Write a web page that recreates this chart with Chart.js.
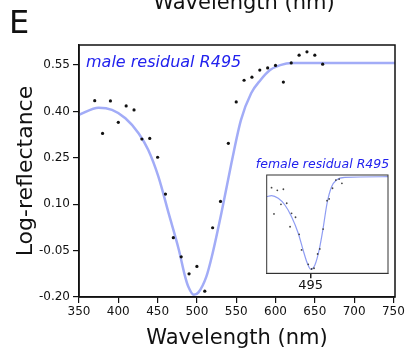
<!DOCTYPE html>
<html>
<head>
    <title>Log-reflectance residual R495</title>
    <style>
        body, html {
            margin: 0;
            background-color: #fff;
        }
        #wrap {
            position: relative;
            width: 405px;
            height: 353px;
        }
        #insetChart {
            position: absolute;
            left: 262px;
            top: 170px;
        }
    </style>
</head>
<body>
<div id="wrap">
    <canvas id="mainChart" width="405" height="353"></canvas>
    <canvas id="insetChart" width="130" height="126"></canvas>
</div>
<script src="https://cdn.jsdelivr.net/npm/chart.js"></script>
<script>
    // measured male residual, one point every 10 nm
    const wavelengths = [370, 380, 390, 400, 410, 420, 430, 440, 450, 460,
        470, 480, 490, 500, 510, 520, 530, 540, 550, 560,
        570, 580, 590, 600, 610, 620, 630, 640, 650, 660];
    const reflectance = [0.435, 0.329, 0.434, 0.365, 0.418, 0.405, 0.311, 0.313, 0.252, 0.133,
        -0.008, -0.070, -0.125, -0.101, -0.181, 0.024, 0.109, 0.297, 0.431, 0.501,
        0.511, 0.534, 0.541, 0.549, 0.495, 0.557, 0.582, 0.593, 0.582, 0.553];

    // fitted R495 template
    const fitWavelengths = [350, 375, 392, 409, 426, 438, 451, 464, 477, 485, 489, 496,
        502, 512, 519, 532, 544, 556, 569, 581, 593, 606, 621, 660, 752];
    const fitValues = [0.389, 0.412, 0.405, 0.378, 0.329, 0.276, 0.189, 0.071, -0.047, -0.134, -0.166, -0.193,
        -0.185, -0.134, -0.069, 0.082, 0.234, 0.372, 0.459, 0.502, 0.534, 0.550, 0.557, 0.557, 0.557];

    const xTicks = [350, 400, 450, 500, 550, 600, 650, 700, 750];
    const yTicks = [-0.20, -0.05, 0.10, 0.25, 0.40, 0.55];

    // female residual (inset)
    const insetWavelengths = [366, 374, 385, 397, 405, 416, 427, 432, 445, 457, 465,
        487, 498, 506, 518, 525, 536, 549, 556, 567, 578, 589, 598];
    const insetValues = [0.497, 0.283, 0.475, 0.361, 0.484, 0.370, 0.179, 0.288, 0.256, 0.117, -0.010,
        -0.127, -0.165, -0.159, -0.043, -0.002, 0.160, 0.391, 0.405, 0.492, 0.559, 0.567, 0.532];
    const insetFitWavelengths = [350, 366, 388, 410, 432, 454, 470, 484, 495, 509, 523, 536, 549, 564, 580, 608, 750];
    const insetFitValues = [0.423, 0.432, 0.410, 0.356, 0.261, 0.126, -0.010, -0.119, -0.167, -0.132, -0.010,
        0.166, 0.370, 0.505, 0.559, 0.581, 0.586];
    const insetTicks = [495];

    const FONT = '"DejaVu Sans", sans-serif';
    const INK = '#111';
    const LABEL_BLUE = '#2222ee';

    function toPoints(xs, ys) {
        return xs.map((x, i) => ({ x: x, y: ys[i] }));
    }

    const frame = {
        id: 'frame',
        afterDraw(chart, args, opts) {
            const { ctx, chartArea: a } = chart;
            ctx.save();
            ctx.strokeStyle = opts.color;
            ctx.lineWidth = opts.width;
            ctx.strokeRect(a.left, a.top, a.right - a.left, a.bottom - a.top);
            ctx.restore();
        }
    };

    const panelText = {
        id: 'panelText',
        afterDraw(chart) {
            const ctx = chart.ctx;
            ctx.save();
            ctx.textBaseline = 'alphabetic';
            ctx.fillStyle = INK;
            ctx.font = '32px ' + FONT;
            ctx.fillText('E', 9, 33);
            // bottom of the axis title from the panel above
            ctx.textAlign = 'center';
            ctx.font = '21px ' + FONT;
            ctx.fillText('Wavelength (nm)', 244, 9);

            ctx.fillStyle = LABEL_BLUE;
            ctx.textAlign = 'left';
            ctx.font = 'italic 16px ' + FONT;
            ctx.fillText('male residual R495', 86, 66.5);
            ctx.textAlign = 'center';
            ctx.font = 'italic 12.5px ' + FONT;
            ctx.fillText('female residual R495', 322.5, 168);
            ctx.restore();
        }
    };

    new Chart(document.getElementById('mainChart'), {
        type: 'scatter',
        data: {
            datasets: [{
                type: 'line',
                data: toPoints(fitWavelengths, fitValues),
                borderColor: '#a2acf7',
                borderWidth: 2.5,
                pointRadius: 0,
                cubicInterpolationMode: 'monotone',
                order: 2
            }, {
                data: toPoints(wavelengths, reflectance),
                backgroundColor: INK,
                borderWidth: 0,
                pointRadius: 1.6,
                order: 1
            }]
        },
        options: {
            responsive: false,
            animation: false,
            layout: { padding: { top: 45, right: 10, left: 0, bottom: 0 } },
            plugins: {
                legend: { display: false },
                tooltip: { enabled: false },
                frame: { color: INK, width: 1.5 }
            },
            scales: {
                x: {
                    type: 'linear',
                    min: 350,
                    max: 752,
                    afterBuildTicks: axis => { axis.ticks = xTicks.map(value => ({ value })); },
                    afterFit: axis => {
                        axis.height = 56;
                        // let the 750 label hang past the frame
                        axis.paddingRight = 0;
                        axis.paddingLeft = 0;
                    },
                    ticks: {
                        color: INK,
                        font: { family: FONT, size: 12 },
                        padding: 2,
                        callback: v => String(v)
                    },
                    grid: { drawOnChartArea: false, tickLength: 6, color: INK, lineWidth: 1.2 },
                    border: { color: INK, width: 1.5 },
                    title: {
                        display: true,
                        text: 'Wavelength (nm)',
                        color: INK,
                        font: { family: FONT, size: 21 },
                        padding: { top: 0, bottom: 2 }
                    }
                },
                y: {
                    min: -0.20,
                    max: 0.615,
                    afterBuildTicks: axis => { axis.ticks = yTicks.map(value => ({ value })); },
                    afterFit: axis => { axis.width = 79; },
                    ticks: {
                        color: INK,
                        font: { family: FONT, size: 12 },
                        padding: 3,
                        callback: v => v.toFixed(2)
                    },
                    grid: { drawOnChartArea: false, tickLength: 6, color: INK, lineWidth: 1.2 },
                    border: { color: INK, width: 1.5 },
                    title: {
                        display: true,
                        text: 'Log-reflectance',
                        color: INK,
                        font: { family: FONT, size: 22 },
                        padding: { top: 13, bottom: 0 }
                    }
                }
            }
        },
        plugins: [frame, panelText]
    });

    new Chart(document.getElementById('insetChart'), {
        type: 'scatter',
        data: {
            datasets: [{
                type: 'line',
                data: toPoints(insetFitWavelengths, insetFitValues),
                borderColor: '#8f9df3',
                borderWidth: 1.2,
                pointRadius: 0,
                cubicInterpolationMode: 'monotone',
                order: 2
            }, {
                data: toPoints(insetWavelengths, insetValues),
                backgroundColor: '#444',
                borderWidth: 0,
                pointRadius: 0.9,
                order: 1
            }]
        },
        options: {
            responsive: false,
            animation: false,
            layout: { padding: { top: 5, right: 3.7, left: 4.7, bottom: 0 } },
            plugins: {
                legend: { display: false },
                tooltip: { enabled: false },
                frame: { color: '#333', width: 1 }
            },
            scales: {
                x: {
                    type: 'linear',
                    min: 350,
                    max: 750,
                    afterBuildTicks: axis => { axis.ticks = insetTicks.map(value => ({ value })); },
                    afterFit: axis => { axis.height = 22.7; },
                    ticks: {
                        color: INK,
                        font: { family: FONT, size: 13 },
                        padding: 0,
                        callback: v => String(v)
                    },
                    grid: { drawOnChartArea: false, tickLength: 5, color: '#222', lineWidth: 1.5 },
                    border: { color: '#333', width: 1 }
                },
                y: {
                    display: false,
                    min: -0.2,
                    max: 0.6
                }
            }
        },
        plugins: [frame]
    });
</script>
</body>
</html>
